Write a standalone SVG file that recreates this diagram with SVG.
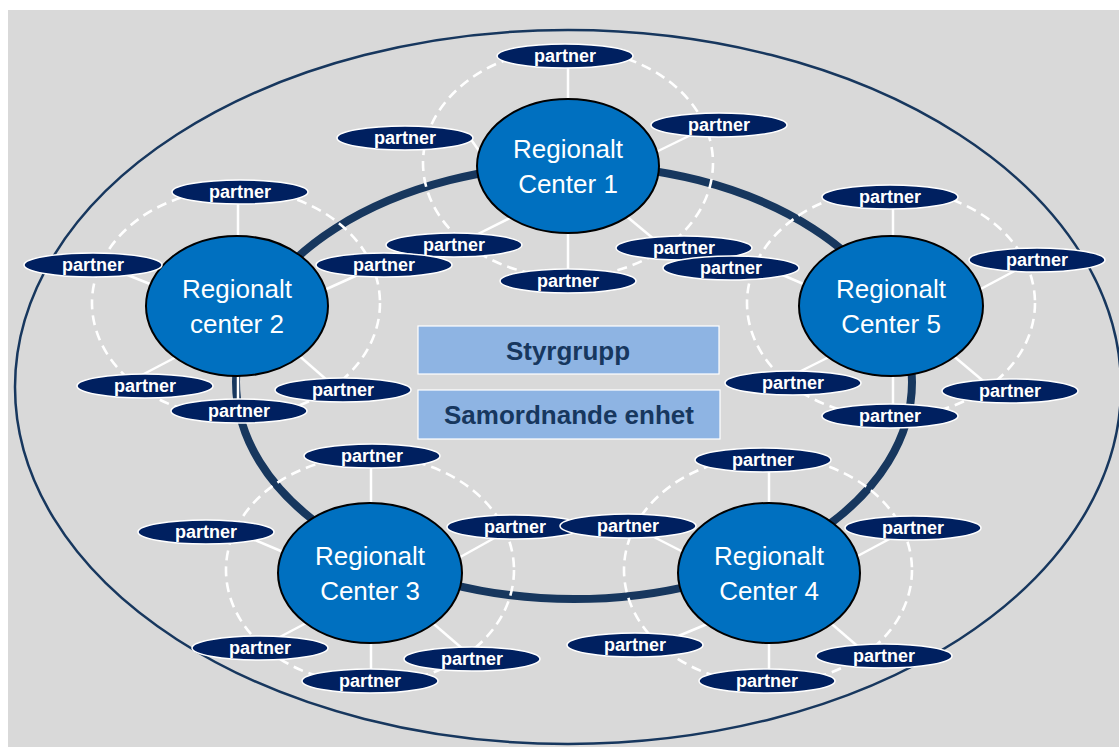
<svg xmlns="http://www.w3.org/2000/svg" width="1119" height="747" viewBox="0 0 1119 747">
<style>
.bg{fill:#d9d9d9}
.outer{fill:none;stroke:#17375e;stroke-width:2.5}
.ring{fill:none;stroke:#17375e;stroke-width:8}
.dash{fill:none;stroke:#ffffff;stroke-width:2.6;stroke-dasharray:10 6}
.con line{stroke:#ffffff;stroke-width:2.5}
.center ellipse{fill:#0070c0;stroke:#000000;stroke-width:2}
.center text{fill:#ffffff;font-family:"Liberation Sans",Arial,sans-serif;font-size:26px;text-anchor:middle}
.p ellipse{fill:#002060;stroke:#ffffff;stroke-width:1.5}
.p text{fill:#ffffff;font-family:"Liberation Sans",Arial,sans-serif;font-size:18px;font-weight:bold;text-anchor:middle}
.box rect{fill:#8eb4e3;stroke:#ffffff;stroke-width:1.2}
.box text{fill:#17375e;font-family:"Liberation Sans",Arial,sans-serif;font-size:26px;font-weight:bold;text-anchor:middle}
</style>
<rect class="bg" x="8" y="10" width="1111" height="737"/>
<ellipse class="outer" cx="568" cy="387" rx="553" ry="357"/>
<ellipse class="ring" cx="574" cy="382" rx="338" ry="217"/>
<g id="dashed">
<ellipse class="dash" cx="568" cy="163" rx="145" ry="114"/>
<ellipse class="dash" cx="236" cy="303" rx="144" ry="114"/>
<ellipse class="dash" cx="891" cy="303" rx="144" ry="114"/>
<ellipse class="dash" cx="370" cy="570" rx="144" ry="114"/>
<ellipse class="dash" cx="768" cy="570" rx="144" ry="114"/>
</g>
<g id="connectors" class="con">
<line x1="568" y1="60" x2="568" y2="106"/>
<line x1="470" y1="138" x2="484" y2="158"/>
<line x1="650" y1="155" x2="697" y2="132"/>
<line x1="512" y1="217" x2="470" y2="238"/>
<line x1="625" y1="215" x2="655" y2="240"/>
<line x1="568" y1="228" x2="568" y2="275"/>
<line x1="238" y1="198" x2="238" y2="242"/>
<line x1="120" y1="272" x2="160" y2="288"/>
<line x1="320" y1="292" x2="362" y2="273"/>
<line x1="140" y1="376" x2="180" y2="355"/>
<line x1="296" y1="353" x2="328" y2="381"/>
<line x1="238" y1="370" x2="238" y2="405"/>
<line x1="893" y1="203" x2="893" y2="242"/>
<line x1="975" y1="292" x2="1020" y2="268"/>
<line x1="778" y1="273" x2="815" y2="289"/>
<line x1="795" y1="374" x2="835" y2="354"/>
<line x1="950" y1="353" x2="988" y2="385"/>
<line x1="893" y1="370" x2="893" y2="410"/>
<line x1="371" y1="460" x2="371" y2="510"/>
<line x1="250" y1="538" x2="295" y2="557"/>
<line x1="455" y1="560" x2="498" y2="536"/>
<line x1="276" y1="639" x2="312" y2="620"/>
<line x1="428" y1="619" x2="464" y2="650"/>
<line x1="371" y1="638" x2="371" y2="675"/>
<line x1="769" y1="466" x2="769" y2="510"/>
<line x1="648" y1="534" x2="693" y2="557"/>
<line x1="852" y1="559" x2="895" y2="536"/>
<line x1="676" y1="637" x2="712" y2="622"/>
<line x1="826" y1="619" x2="862" y2="650"/>
<line x1="769" y1="638" x2="769" y2="675"/>
</g>
<g id="center1" class="center"><ellipse cx="568" cy="166" rx="91" ry="67"/><text x="568" y="158">Regionalt</text><text x="568" y="193">Center 1</text></g>
<g id="center2" class="center"><ellipse cx="237" cy="306" rx="91" ry="70"/><text x="237" y="298">Regionalt</text><text x="237" y="333">center 2</text></g>
<g id="center5" class="center"><ellipse cx="891" cy="306" rx="92" ry="70"/><text x="891" y="298">Regionalt</text><text x="891" y="333">Center 5</text></g>
<g id="center3" class="center"><ellipse cx="370" cy="573" rx="92" ry="70"/><text x="370" y="565">Regionalt</text><text x="370" y="600">Center 3</text></g>
<g id="center4" class="center"><ellipse cx="769" cy="573" rx="91" ry="70"/><text x="769" y="565">Regionalt</text><text x="769" y="600">Center 4</text></g>
<g id="styrgrupp" class="box"><rect x="418" y="326" width="301" height="48"/><text x="568" y="360">Styrgrupp</text></g>
<g id="samordnande" class="box"><rect x="418" y="390" width="302" height="49"/><text x="569" y="424">Samordnande enhet</text></g>
<g id="p1a" class="p"><ellipse cx="565" cy="56" rx="68" ry="12"/><text x="565" y="62">partner</text></g>
<g id="p1b" class="p"><ellipse cx="405" cy="138" rx="68" ry="12"/><text x="405" y="144">partner</text></g>
<g id="p1c" class="p"><ellipse cx="719" cy="125" rx="68" ry="12"/><text x="719" y="131">partner</text></g>
<g id="p1d" class="p"><ellipse cx="454" cy="245" rx="68" ry="12"/><text x="454" y="251">partner</text></g>
<g id="p1e" class="p"><ellipse cx="684" cy="248" rx="68" ry="12"/><text x="684" y="254">partner</text></g>
<g id="p1f" class="p"><ellipse cx="568" cy="281" rx="68" ry="12"/><text x="568" y="287">partner</text></g>
<g id="p2a" class="p"><ellipse cx="240" cy="192" rx="68" ry="12"/><text x="240" y="198">partner</text></g>
<g id="p2b" class="p"><ellipse cx="93" cy="265" rx="69" ry="12"/><text x="93" y="271">partner</text></g>
<g id="p2c" class="p"><ellipse cx="384" cy="265" rx="68" ry="12"/><text x="384" y="271">partner</text></g>
<g id="p2d" class="p"><ellipse cx="145" cy="386" rx="68" ry="12"/><text x="145" y="392">partner</text></g>
<g id="p2e" class="p"><ellipse cx="343" cy="390" rx="68" ry="12"/><text x="343" y="396">partner</text></g>
<g id="p2f" class="p"><ellipse cx="239" cy="411" rx="68" ry="12"/><text x="239" y="417">partner</text></g>
<g id="p5a" class="p"><ellipse cx="890" cy="197" rx="68" ry="12"/><text x="890" y="203">partner</text></g>
<g id="p5b" class="p"><ellipse cx="1037" cy="260" rx="68" ry="12"/><text x="1037" y="266">partner</text></g>
<g id="p5c" class="p"><ellipse cx="731" cy="268" rx="68" ry="12"/><text x="731" y="274">partner</text></g>
<g id="p5d" class="p"><ellipse cx="793" cy="383" rx="68" ry="12"/><text x="793" y="389">partner</text></g>
<g id="p5e" class="p"><ellipse cx="1010" cy="391" rx="68" ry="12"/><text x="1010" y="397">partner</text></g>
<g id="p5f" class="p"><ellipse cx="890" cy="416" rx="68" ry="12"/><text x="890" y="422">partner</text></g>
<g id="p3a" class="p"><ellipse cx="372" cy="456" rx="68" ry="12"/><text x="372" y="462">partner</text></g>
<g id="p3b" class="p"><ellipse cx="206" cy="532" rx="68" ry="12"/><text x="206" y="538">partner</text></g>
<g id="p3c" class="p"><ellipse cx="515" cy="527" rx="68" ry="12"/><text x="515" y="533">partner</text></g>
<g id="p3d" class="p"><ellipse cx="260" cy="648" rx="68" ry="12"/><text x="260" y="654">partner</text></g>
<g id="p3e" class="p"><ellipse cx="472" cy="659" rx="68" ry="12"/><text x="472" y="665">partner</text></g>
<g id="p3f" class="p"><ellipse cx="370" cy="681" rx="68" ry="12"/><text x="370" y="687">partner</text></g>
<g id="p4a" class="p"><ellipse cx="763" cy="460" rx="68" ry="12"/><text x="763" y="466">partner</text></g>
<g id="p4b" class="p"><ellipse cx="628" cy="526" rx="68" ry="12"/><text x="628" y="532">partner</text></g>
<g id="p4c" class="p"><ellipse cx="913" cy="528" rx="68" ry="12"/><text x="913" y="534">partner</text></g>
<g id="p4d" class="p"><ellipse cx="635" cy="645" rx="68" ry="12"/><text x="635" y="651">partner</text></g>
<g id="p4e" class="p"><ellipse cx="884" cy="656" rx="68" ry="12"/><text x="884" y="662">partner</text></g>
<g id="p4f" class="p"><ellipse cx="767" cy="681" rx="68" ry="12"/><text x="767" y="687">partner</text></g>
</svg>
